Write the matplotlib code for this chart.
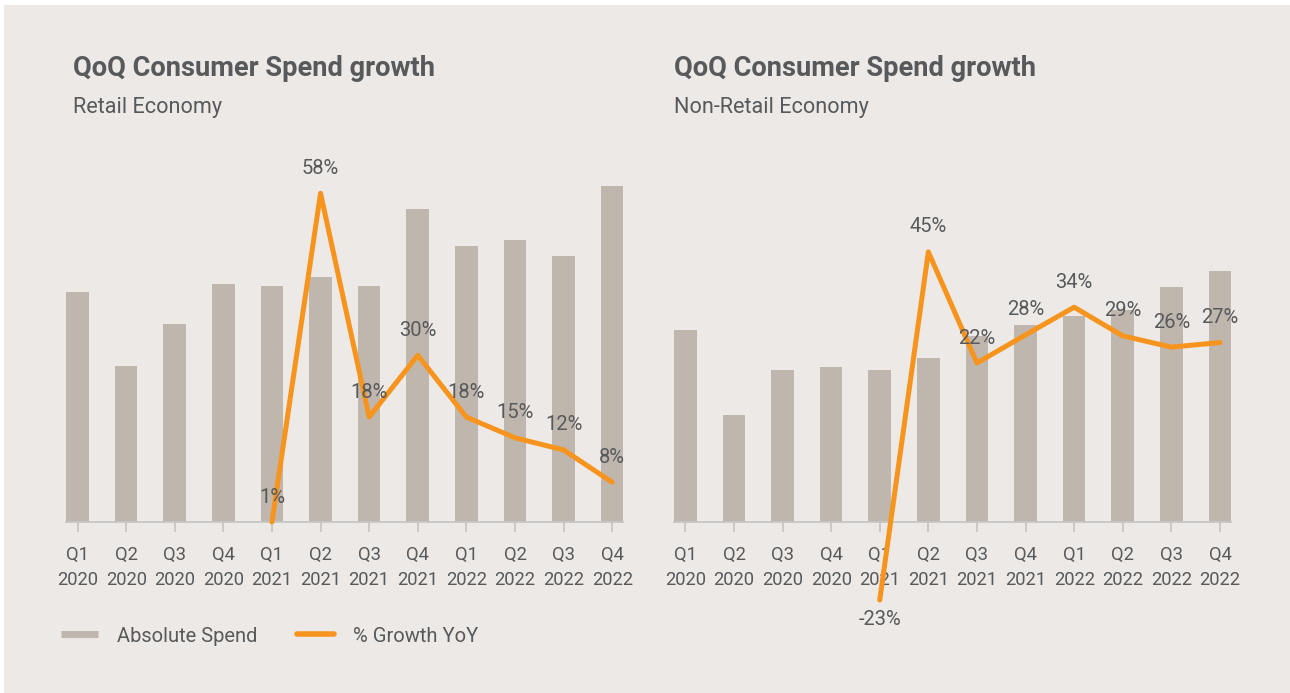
import matplotlib.pyplot as plt
from matplotlib.lines import Line2D
from matplotlib.patches import Rectangle

plt.rcParams['font.family'] = ['Roboto', 'DejaVu Sans']

# Data
quarters = ["Q1\n2020", "Q2\n2020", "Q3\n2020", "Q4\n2020",
            "Q1\n2021", "Q2\n2021", "Q3\n2021", "Q4\n2021",
            "Q1\n2022", "Q2\n2022", "Q3\n2022", "Q4\n2022"]

retail_spend = [230, 156, 198, 238, 236, 245, 236, 313, 276, 282, 266, 336]
nonretail_spend = [192, 107, 152, 155, 152, 164, 186, 197, 206, 212, 235, 251]

retail_growth = [1, 58, 19.2, 29.9, 19.2, 15.6, 13.5, 7.9]
retail_growth_labels = ["1%", "58%", "18%", "30%", "18%", "15%", "12%", "8%"]
nonretail_growth = [-23, 45, 23.3, 28.8, 34.2, 28.6, 26.4, 27.3]
nonretail_growth_labels = ["-23%", "45%", "22%", "28%", "34%", "29%", "26%", "27%"]

titel = "QoQ Consumer Spend growth"
subtitles = ["Retail Economy", "Non-Retail Economy"]

# Styles
bg = "#ECE9E6"
bar_color = "#BFB7AE"
line_color = "#F7941D"
text_color = "#58595B"
axis_color = "#C6C6C8"

W, H = 1290, 693
fig = plt.figure(figsize=(W / 100, H / 100), dpi=100)
fig.patch.set_facecolor("white")
fig.patches.append(Rectangle((4 / W, 0), 1, 1 - 5 / H, transform=fig.transFigure,
                             facecolor=bg, edgecolor="none", zorder=-10))


def px_axes(left, top, right, bottom):
    return fig.add_axes([left / W, 1 - bottom / H, (right - left) / W, (bottom - top) / H])


panels = [
    (66.2, retail_spend, retail_growth, retail_growth_labels, (0.95, 65.5), 73),
    (674.0, nonretail_spend, nonretail_growth, nonretail_growth_labels, (-7.81, 64.9), 674),
]

for i, (left, spend, growth, labels, glim, tx) in enumerate(panels):
    ax = px_axes(left, 150, left + 557.3, 522.3)
    ax.set_facecolor("none")
    x = list(range(len(quarters)))
    ax.bar(x, spend, width=0.467, color=bar_color, zorder=1)
    ax.set_xlim(-0.2335, len(quarters) - 1 + 0.2335)
    ax.set_ylim(0, 372.3)
    for s in ["top", "right", "left"]:
        ax.spines[s].set_visible(False)
    ax.spines["bottom"].set_color(axis_color)
    ax.spines["bottom"].set_linewidth(1.3)
    ax.set_yticks([])
    ax.set_xticks(x)
    ax.set_xticklabels(quarters, fontsize=13.2, color=text_color, linespacing=1.5)
    ax.tick_params(axis="x", length=7.5, width=1.3, color=axis_color, pad=9.5)

    ax2 = ax.twinx()
    ax2.set_ylim(*glim)
    ax2.axis("off")
    gx = x[4:]
    ax2.plot(gx, growth, color=line_color, lw=3.6, solid_capstyle="round",
             solid_joinstyle="round", clip_on=False, zorder=3)
    for xx, v, lab in zip(gx, growth, labels):
        off = 18 if v >= 0 else -14
        ax2.annotate(lab, (xx, v), xytext=(0, off), textcoords="offset points",
                     ha="center", va="center", fontsize=14.5, color=text_color,
                     annotation_clip=False)

    fig.text(tx / W, 1 - 68 / H, titel, fontsize=19.6, fontweight="bold",
             color=text_color, va="center", ha="left")
    fig.text(tx / W, 1 - 107 / H, subtitles[i], fontsize=15.6,
             color=text_color, va="center", ha="left")

# Legend
handles = [Line2D([], [], color=bar_color, lw=5, solid_capstyle="butt"),
           Line2D([], [], color=line_color, lw=4, solid_capstyle="round")]
fig.legend(handles, ["Absolute Spend", "% Growth YoY"], loc="center left",
           bbox_to_anchor=(61 / W, 1 - 636 / H), ncol=2, frameon=False,
           fontsize=14.5, labelcolor=text_color, handlelength=1.84,
           handletextpad=0.94, columnspacing=1.99, borderpad=0, borderaxespad=0)

fig.savefig("out.png", dpi=100, facecolor=fig.get_facecolor())
